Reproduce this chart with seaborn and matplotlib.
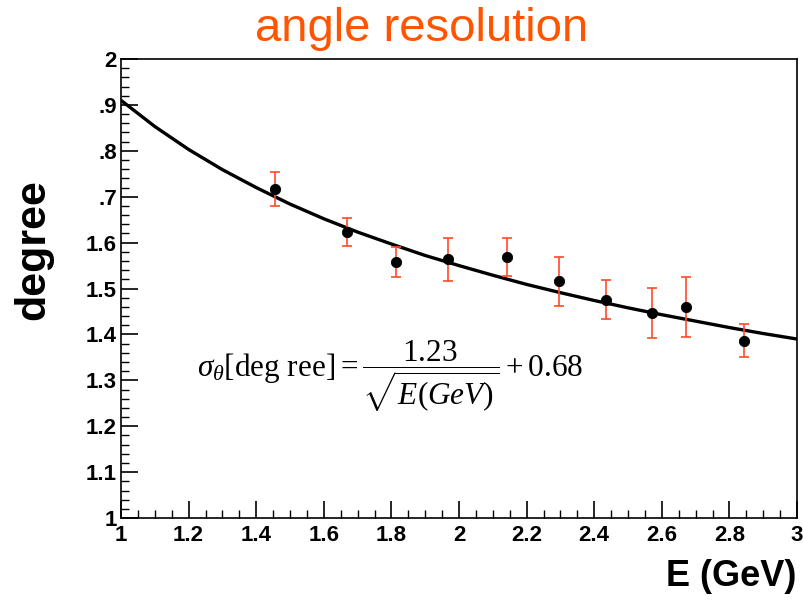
import matplotlib
matplotlib.use("Agg")
import matplotlib.pyplot as plt
from matplotlib.ticker import MultipleLocator, FixedLocator, FixedFormatter
import seaborn as sns
import pandas as pd

energy = [1.455, 1.668, 1.815, 1.968, 2.141, 2.296, 2.436, 2.570, 2.671, 2.844]
resolution = [1.717, 1.623, 1.558, 1.564, 1.569, 1.516, 1.476, 1.447, 1.460, 1.386]
res_err = [0.037, 0.030, 0.033, 0.047, 0.041, 0.053, 0.043, 0.055, 0.065, 0.036]

# fitted curve
fit_e = [1.0, 1.1, 1.2, 1.3, 1.4, 1.5, 1.6, 1.7, 1.8, 1.9, 2.0,
         2.1, 2.2, 2.3, 2.4, 2.5, 2.6, 2.7, 2.8, 2.9, 3.0]
fit_res = [1.910, 1.853, 1.803, 1.759, 1.720, 1.684, 1.652, 1.623, 1.597, 1.572, 1.550,
           1.529, 1.509, 1.491, 1.474, 1.458, 1.443, 1.429, 1.415, 1.402, 1.390]

x_ticks = [1, 1.2, 1.4, 1.6, 1.8, 2, 2.2, 2.4, 2.6, 2.8, 3]
x_labels = ["1", "1.2", "1.4", "1.6", "1.8", "2", "2.2", "2.4", "2.6", "2.8", "3"]
y_ticks = [1, 1.1, 1.2, 1.3, 1.4, 1.5, 1.6, 1.7, 1.8, 1.9, 2]
y_labels = ["1", "1.1", "1.2", "1.3", "1.4", "1.5", "1.6", ".7", ".8", ".9", "2"]

sns.set_style("white")
plt.rcParams["font.family"] = ["Liberation Sans", "DejaVu Sans"]
plt.rcParams["text.color"] = "black"
plt.rcParams["xtick.color"] = "black"
plt.rcParams["ytick.color"] = "black"
plt.rcParams["mathtext.fontset"] = "custom"
plt.rcParams["mathtext.rm"] = "Liberation Serif"
plt.rcParams["mathtext.it"] = "Liberation Serif:italic"

pts = pd.DataFrame({"E": energy, "res": resolution, "err": res_err})
fit = pd.DataFrame({"E": fit_e, "res": fit_res})

fig = plt.figure(figsize=(8.04, 6.01), dpi=100)
ax = fig.add_axes([0.1505, 0.138, 0.8408, 0.7638])

sns.lineplot(data=fit, x="E", y="res", ax=ax, color="black", lw=2.4, zorder=2)
ax.errorbar(pts["E"], pts["res"], yerr=pts["err"], fmt="none", ecolor="#ff4a26",
            elinewidth=1.2, capsize=3.5, capthick=1.2, zorder=3)
sns.scatterplot(data=pts, x="E", y="res", ax=ax, color="black", s=55,
                edgecolor="black", zorder=4)

ax.set_xlim(1, 3)
ax.set_ylim(1, 2)
ax.xaxis.set_major_locator(FixedLocator(x_ticks))
ax.xaxis.set_major_formatter(FixedFormatter(x_labels))
ax.yaxis.set_major_locator(FixedLocator(y_ticks))
ax.yaxis.set_major_formatter(FixedFormatter(y_labels))
ax.xaxis.set_minor_locator(MultipleLocator(0.05))
ax.yaxis.set_minor_locator(MultipleLocator(0.02))
ax.tick_params(which="both", direction="in", bottom=True, left=True,
               top=False, right=False, color="black")
ax.tick_params(which="major", length=12, width=1.2)
ax.tick_params(which="minor", length=6, width=1.0)
ax.tick_params(axis="x", pad=5)
ax.tick_params(axis="y", pad=3)
for lab in ax.get_xticklabels() + ax.get_yticklabels():
    lab.set_fontweight("bold")
    lab.set_fontsize(16)
    lab.set_color("black")

for s in ax.spines.values():
    s.set_color("black")
    s.set_linewidth(1.2)

ax.set_xlabel("")
ax.set_ylabel("")
fig.text(0.041, 0.585, "degree", rotation=90, ha="center", va="center",
         fontsize=31, fontweight="bold")
fig.text(0.99, 0.04, "E (GeV)", ha="right", va="center",
         fontsize=26, fontweight="bold")
fig.text(0.524, 0.952, "angle resolution", ha="center", va="center",
         fontsize=34, color="#ff5500")

ax.text(1.225, 1.31, r"$\sigma_{\theta}\mathrm{[deg\ ree]} = \dfrac{\mathrm{1.23}}{\sqrt{E(GeV)}} + \mathrm{0.68}$",
        fontsize=22.5, ha="left", va="center")

fig.savefig("out.png", dpi=100)
